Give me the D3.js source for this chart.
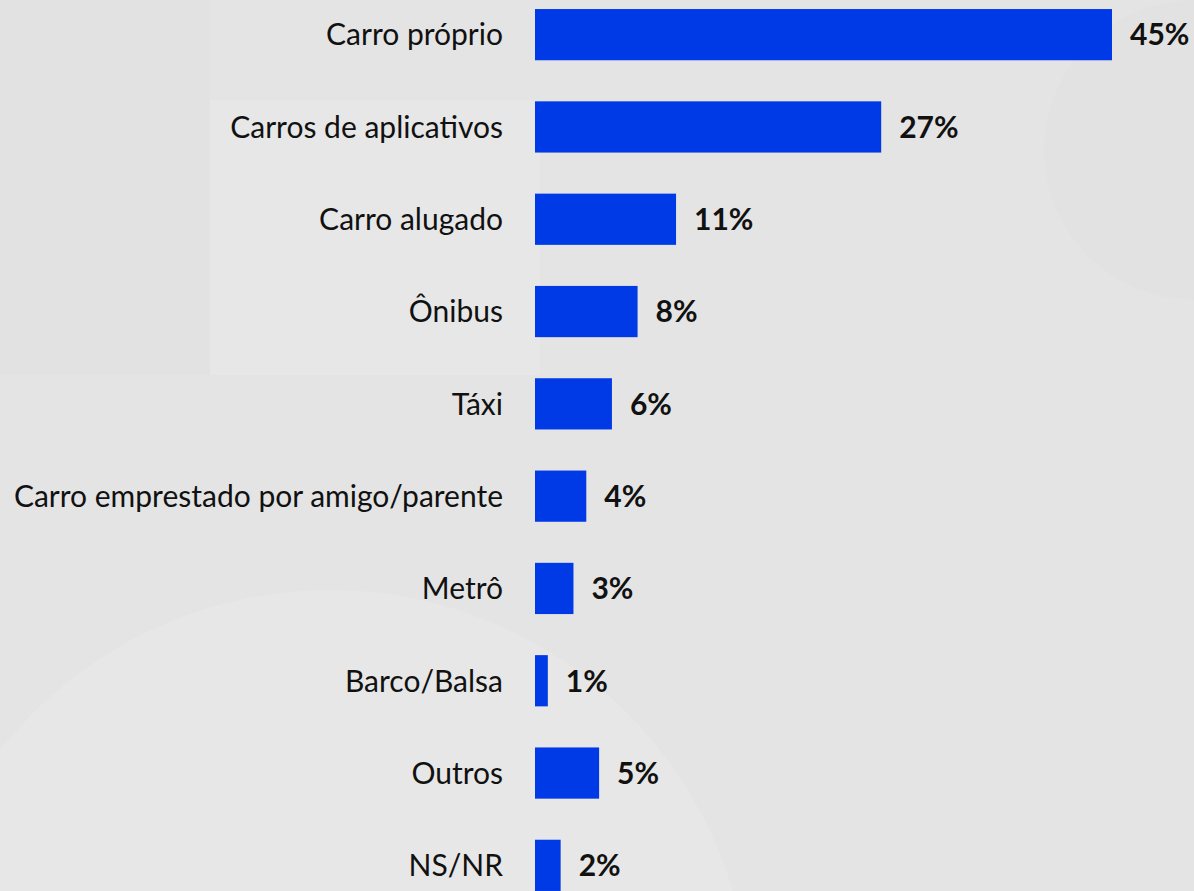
<!DOCTYPE html>
<html>
<head>
<meta charset="utf-8">
<script src="https://cdn.jsdelivr.net/npm/d3@7"></script>
<style>
  html, body { margin: 0; padding: 0; background: #e5e5e5; }
  svg { display: block; }
</style>
</head>
<body>
<svg width="1194" height="891"></svg>
<script>
var categories = [
  "Carro próprio",
  "Carros de aplicativos",
  "Carro alugado",
  "Ônibus",
  "Táxi",
  "Carro emprestado por amigo/parente",
  "Metrô",
  "Barco/Balsa",
  "Outros",
  "NS/NR"
];
var values = [45, 27, 11, 8, 6, 4, 3, 1, 5, 2];
var valueLabels = ["45%", "27%", "11%", "8%", "6%", "4%", "3%", "1%", "5%", "2%"];

var data = categories.map((c, i) => ({ cat: c, val: values[i], lab: valueLabels[i] }));

var svg = d3.select("svg");
var width = +svg.attr("width");
var height = +svg.attr("height");

// faint background shapes
var bg = svg.append("g");
bg.append("rect").attr("width", width).attr("height", height).attr("fill", "#e4e4e4");
bg.append("rect").attr("x", 0).attr("y", 0).attr("width", 210).attr("height", 375).attr("fill", "#e2e2e2");
bg.append("rect").attr("x", 210).attr("y", 100).attr("width", 330).attr("height", 275).attr("fill", "#e7e7e7");
bg.append("circle").attr("cx", 330).attr("cy", 1010).attr("r", 420).attr("fill", "#e7e7e7");
bg.append("circle").attr("cx", 1194).attr("cy", 150).attr("r", 150).attr("fill", "#e2e2e2");

var x = d3.scaleLinear()
  .domain([0, 45])
  .range([535, 1112]);

var y = d3.scaleBand()
  .domain(categories)
  .range([-11.5, 911.5])
  .paddingInner(0.445)
  .paddingOuter(0.2225);

var font = "Lato, 'Open Sans', sans-serif";

var rows = svg.selectAll("g.row")
  .data(data)
  .enter()
  .append("g")
  .attr("class", "row");

rows.append("rect")
  .attr("x", x(0))
  .attr("y", d => y(d.cat))
  .attr("width", d => x(d.val) - x(0))
  .attr("height", y.bandwidth())
  .attr("fill", "#003ae6");

rows.append("text")
  .attr("x", 503)
  .attr("y", d => y(d.cat) + y.bandwidth() / 2)
  .attr("dy", "0.36em")
  .attr("text-anchor", "end")
  .style("font-family", font)
  .style("font-size", "30px")
  .attr("fill", "#111")
  .text(d => d.cat);

rows.append("text")
  .attr("x", d => x(d.val) + 18)
  .attr("y", d => y(d.cat) + y.bandwidth() / 2)
  .attr("dy", "0.36em")
  .style("font-family", font)
  .style("font-size", "30px")
  .style("font-weight", "bold")
  .attr("fill", "#111")
  .text(d => d.lab);
</script>
</body>
</html>
